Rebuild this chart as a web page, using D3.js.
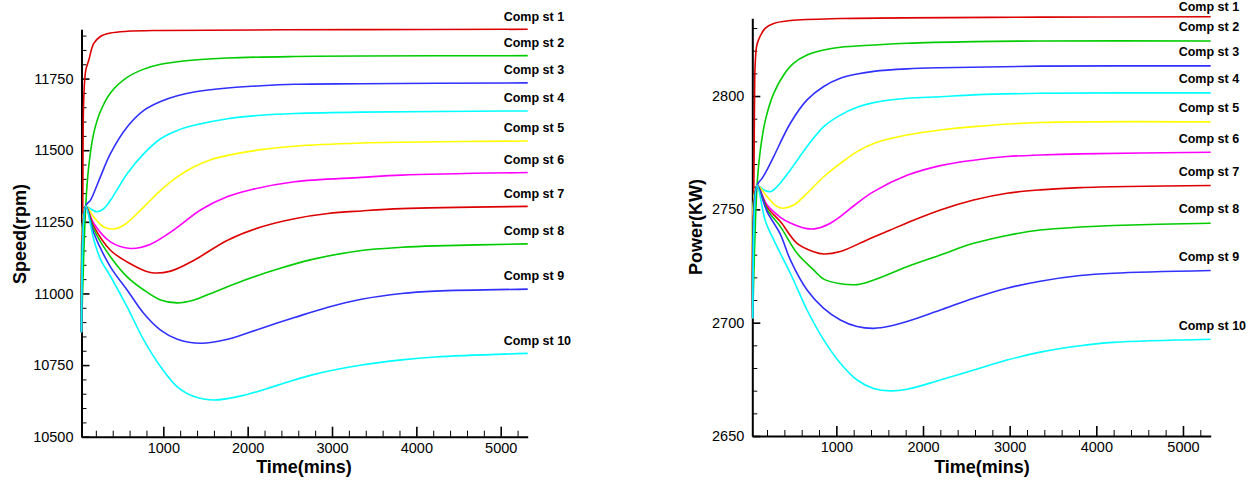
<!DOCTYPE html>
<html>
<head>
<meta charset="utf-8">
<script src="https://cdn.jsdelivr.net/npm/d3@7"></script>
<style>
  html, body { margin: 0; padding: 0; background: #ffffff; }
  svg { display: block; font-family: "Liberation Sans", Arial, sans-serif; }
</style>
</head>
<body>
<svg id="chart" width="1257" height="480"></svg>
<script>
// ---------- DATA ----------
const seriesNames = ["Comp st 1","Comp st 2","Comp st 3","Comp st 4","Comp st 5","Comp st 6","Comp st 7","Comp st 8","Comp st 9","Comp st 10"];
const seriesColors = ["#dd0000","#00cc00","#3030ff","#00ffff","#ffff00","#ff00ff","#dd0000","#00cc00","#3030ff","#00ffff"];

// Speed (rpm) vs time (mins): [time, value]
const speedSt1 = [[30,10865],[45,11300],[56,11674],[80,11779],[115,11813],[174,11872],[254,11897],[373,11909],[571,11915],[968,11918],[3349,11921],[5320,11922]];
const speedSt2 = [[30,10865],[80,11305],[115,11441],[174,11558],[254,11635],[373,11700],[571,11754],[769,11783],[968,11800],[1365,11815],[1762,11822],[2555,11827],[3349,11829],[5320,11830]];
const speedSt3 = [[30,10865],[80,11305],[135,11325],[174,11349],[254,11407],[373,11488],[571,11581],[769,11639],[968,11670],[1166,11690],[1365,11703],[1762,11717],[2158,11725],[2555,11730],[3349,11732],[5320,11735]];
const speedSt4 = [[30,10865],[80,11305],[135,11296],[214,11285],[293,11296],[373,11325],[571,11418],[769,11488],[968,11540],[1166,11569],[1365,11587],[1762,11610],[2158,11622],[2555,11628],[3349,11633],[5320,11637]];
const speedSt5 = [[30,10865],[80,11305],[174,11267],[293,11232],[412,11225],[531,11238],[769,11302],[968,11360],[1166,11407],[1365,11442],[1563,11467],[1762,11482],[2158,11502],[2555,11514],[3349,11525],[3826,11528],[5320,11532]];
const speedSt6 = [[30,10865],[80,11305],[174,11245],[373,11180],[611,11157],[849,11172],[1126,11222],[1445,11292],[1762,11338],[2039,11362],[2555,11390],[3349,11405],[3826,11413],[5320,11422]];
const speedSt7 = [[30,10865],[80,11305],[174,11235],[373,11151],[571,11110],[849,11073],[1087,11078],[1365,11116],[1762,11186],[2158,11232],[2555,11261],[2952,11279],[3349,11288],[3826,11296],[5320,11304]];
const speedSt8 = [[30,10865],[80,11305],[174,11225],[373,11128],[571,11058],[769,11012],[968,10977],[1166,10967],[1365,10977],[1563,11000],[1960,11046],[2357,11085],[2754,11118],[3349,11150],[3826,11161],[4222,11166],[5320,11173]];
const speedSt9 = [[30,10865],[80,11305],[174,11212],[373,11093],[571,11012],[769,10930],[968,10872],[1166,10840],[1444,10826],[1762,10840],[2158,10878],[2555,10916],[2952,10952],[3349,10980],[3826,11000],[4222,11008],[5320,11015]];
const speedSt10 = [[30,10865],[80,11305],[174,11190],[254,11120],[373,11060],[571,10953],[769,10837],[968,10744],[1166,10674],[1365,10640],[1603,10628],[1960,10645],[2357,10680],[2754,10715],[3349,10750],[3826,10768],[4222,10778],[5320,10791]];

// Power (KW) vs time (mins): [time, value]
const powerSt1 = [[35,2702],[48,2760],[55,2795],[62,2813],[80,2822],[104,2825],[143,2828],[181,2830],[277,2832],[469,2833.3],[1046,2834.2],[3353,2834.8],[5320,2835]];
const powerSt2 = [[35,2702],[85,2760.5],[123,2776.2],[181,2789.4],[277,2801.2],[392,2809.3],[508,2814.5],[662,2818.1],[854,2820.3],[1046,2821.5],[1430,2822.5],[1815,2823.3],[2584,2824],[3353,2824.3],[5320,2824.3]];
const powerSt3 = [[35,2702],[85,2760.5],[143,2763.7],[200,2767.4],[277,2773.3],[469,2788],[662,2798.3],[854,2804.2],[1046,2807.8],[1239,2809.7],[1430,2810.9],[1815,2812],[2200,2812.5],[3353,2813.2],[5320,2813.3]];
const powerSt4 = [[35,2702],[85,2760.5],[162,2758.6],[239,2757.8],[316,2760],[469,2767.4],[662,2777.7],[854,2786.5],[1046,2791.6],[1239,2795],[1430,2797.1],[1815,2799],[2200,2799.7],[2584,2800.5],[3353,2801.2],[5320,2801.4]];
const powerSt5 = [[35,2702],[85,2760.5],[200,2755.6],[316,2751.2],[392,2750.5],[508,2751.9],[662,2757.1],[854,2764.4],[1046,2770.3],[1239,2775.5],[1430,2779.1],[1815,2782.8],[2200,2785],[2584,2786.5],[3353,2788.3],[5320,2788.6]];
const powerSt6 = [[35,2702],[85,2760.5],[200,2752],[354,2746.5],[469,2744],[662,2741.5],[777,2741.6],[931,2743.9],[1046,2746.8],[1239,2752.7],[1430,2757.8],[1815,2765],[2200,2769.3],[2584,2771.7],[2969,2773.3],[3353,2774],[3814,2774.5],[5320,2775.2]];
const powerSt7 = [[35,2702],[85,2760.5],[200,2751],[354,2744.6],[547,2735],[738,2731.3],[854,2730.3],[1046,2731.4],[1354,2736.5],[1623,2740.9],[1815,2744],[2200,2749.7],[2584,2754.1],[2969,2757.1],[3353,2758.6],[3814,2759.6],[5320,2760.5]];
const powerSt8 = [[35,2702],[85,2760.5],[200,2750],[354,2742.4],[547,2730.6],[738,2723.3],[854,2719.2],[1046,2717.2],[1239,2716.8],[1430,2718.8],[1815,2724.7],[2200,2729.9],[2584,2735],[2969,2738.5],[3353,2740.9],[3814,2742.2],[4198,2742.9],[5320,2743.9]];
const powerSt9 = [[35,2702],[85,2760.5],[200,2749],[354,2739],[469,2727.7],[662,2714.4],[854,2706.3],[1046,2701.2],[1239,2698.3],[1430,2697.5],[1623,2698.5],[1815,2700.5],[2200,2705.6],[2584,2710.8],[2969,2715.2],[3353,2718.3],[3814,2720.8],[4198,2721.8],[5320,2723]];
const powerSt10 = [[35,2702],[85,2760.5],[180,2745],[277,2736.5],[469,2721.8],[662,2705.6],[854,2692.4],[1046,2682.1],[1239,2674.7],[1430,2671],[1623,2669.9],[1815,2670.6],[2200,2674.7],[2584,2679.1],[2969,2683.5],[3353,2687],[3814,2689.8],[4198,2691.3],[5320,2692.7]];

const timeTicks = [1000, 2000, 3000, 4000, 5000];
const speedTicks = [10500, 10750, 11000, 11250, 11500, 11750];
const powerTicks = [2650, 2700, 2750, 2800];

const speedSeries = [speedSt1,speedSt2,speedSt3,speedSt4,speedSt5,speedSt6,speedSt7,speedSt8,speedSt9,speedSt10];
const powerSeries = [powerSt1,powerSt2,powerSt3,powerSt4,powerSt5,powerSt6,powerSt7,powerSt8,powerSt9,powerSt10];

// ---------- DRAW ----------
const svg = d3.select("#chart");
svg.append("rect").attr("width",1257).attr("height",480).attr("fill","#ffffff");

function drawPanel(cfg) {
  const x = d3.scaleLinear().domain(cfg.xDomain).range(cfg.xRange);
  const y = d3.scaleLinear().domain(cfg.yDomain).range(cfg.yRange);
  const g = svg.append("g");

  // minor ticks
  const xMinor = d3.range(200, cfg.xDomain[1], 200).filter(v => v % 1000 !== 0);
  g.append("g").attr("transform", `translate(0,${cfg.yRange[0]})`)
    .call(d3.axisBottom(x).tickValues(xMinor).tickSize(-6).tickFormat(""))
    .call(s => { s.select(".domain").remove(); s.selectAll("line").attr("stroke","#000").attr("stroke-width",1); });
  const yMinor = d3.range(cfg.yDomain[0], cfg.yDomain[1] + 0.001, cfg.yMinorStep).filter(v => !cfg.yTicks.includes(v));
  g.append("g").attr("transform", `translate(${cfg.xRange[0]},0)`)
    .call(d3.axisLeft(y).tickValues(yMinor).tickSize(-5).tickFormat(""))
    .call(s => { s.select(".domain").remove(); s.selectAll("line").attr("stroke","#000").attr("stroke-width",1); });

  // major axes
  const xa = g.append("g").attr("transform", `translate(0,${cfg.yRange[0]})`)
    .call(d3.axisBottom(x).tickValues(timeTicks).tickSizeInner(-10).tickSizeOuter(0).tickPadding(6).tickFormat(d3.format("d")));
  const ya = g.append("g").attr("transform", `translate(${cfg.xRange[0]},0)`)
    .call(d3.axisLeft(y).tickValues(cfg.yTicks).tickSizeInner(-8).tickSizeOuter(0).tickPadding(8).tickFormat(d3.format("d")));
  [xa, ya].forEach(a => {
    a.select(".domain").attr("stroke","#000").attr("stroke-width",2);
    a.selectAll(".tick line").attr("stroke","#000").attr("stroke-width",1.6);
    a.selectAll(".tick text").attr("fill","#000").style("font-size","14.5px").style("font-family","'Liberation Sans', Arial, sans-serif");
  });

  // lines
  const line = d3.line().x(d => x(d[0])).y(d => y(d[1])).curve(d3.curveCatmullRom.alpha(0.5));
  cfg.series.forEach((s, i) => {
    g.append("path").datum(s).attr("d", line)
      .attr("fill","none").attr("stroke", seriesColors[i]).attr("stroke-width",1.6);
  });

  // labels
  cfg.series.forEach((s, i) => {
    const last = s[s.length - 1];
    g.append("text")
      .attr("x", x(last[0]) + cfg.labelDx)
      .attr("y", Math.max(8, y(last[1]) + cfg.labelDy))
      .attr("dominant-baseline","middle")
      .style("font-size","12.5px").style("font-weight","bold")
      .attr("fill","#000")
      .text(seriesNames[i]);
  });

  // titles
  g.append("text").attr("x", cfg.xTitlePos[0]).attr("y", cfg.xTitlePos[1])
    .attr("text-anchor","middle").attr("dominant-baseline","middle")
    .style("font-size","18px").style("font-weight","bold").text("Time(mins)");
  g.append("text").attr("transform", `translate(${cfg.yTitlePos[0]},${cfg.yTitlePos[1]}) rotate(-90)`)
    .attr("text-anchor","middle").attr("dominant-baseline","middle")
    .style("font-size","18px").style("font-weight","bold").text(cfg.yTitle);
}

drawPanel({
  xDomain: [30, 5320], xRange: [81.5, 527.7],
  yDomain: [10500, 11922], yRange: [436.7, 29.3],
  yTicks: speedTicks, yMinorStep: 50,
  series: speedSeries, labelDx: -24, labelDy: -12,
  xTitlePos: [304, 468], yTitlePos: [21, 234], yTitle: "Speed(rpm)"
});

drawPanel({
  xDomain: [30, 5320], xRange: [752.3, 1210.7],
  yDomain: [2650, 2834.3], yRange: [436, 18.3],
  yTicks: powerTicks, yMinorStep: 10,
  series: powerSeries, labelDx: -32, labelDy: -13,
  xTitlePos: [982, 468], yTitlePos: [697, 227], yTitle: "Power(KW)"
});
</script>
</body>
</html>
